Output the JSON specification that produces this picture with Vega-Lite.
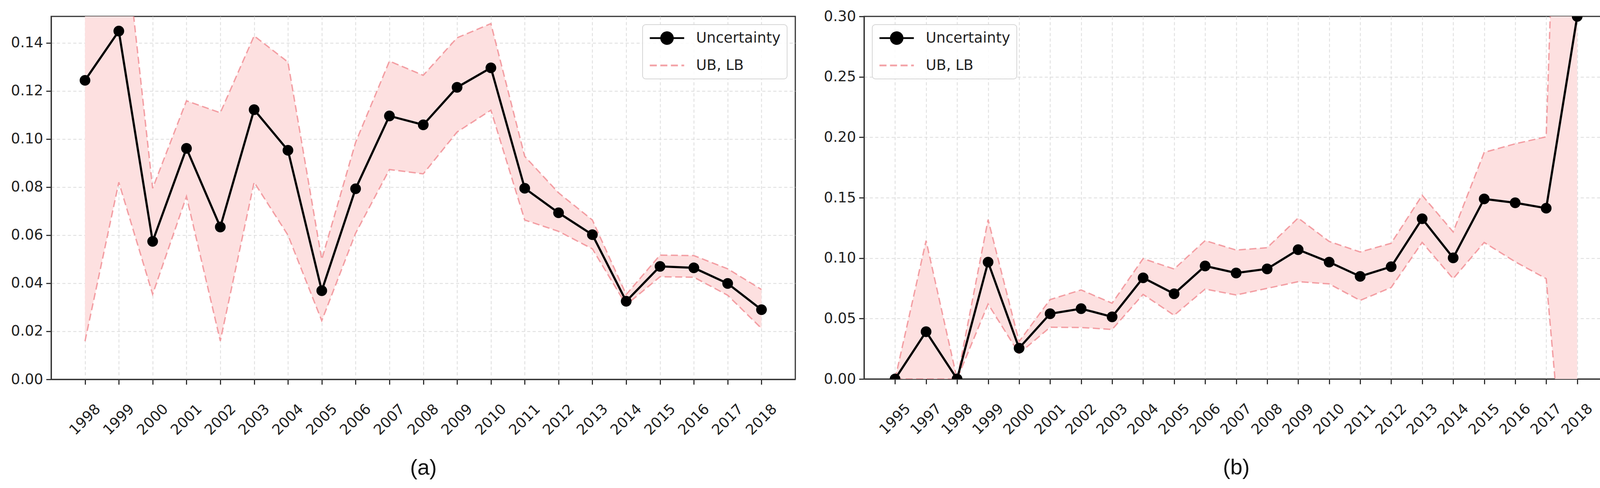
{
  "$schema": "https://vega.github.io/schema/vega-lite/v6.json",
  "padding": {"left": 26, "top": 21, "right": 5, "bottom": 5},
  "background": "white",
  "bounds": "flush",
  "spacing": 176,
  "resolve": {
    "scale": {"x": "independent", "y": "independent", "fill": "independent", "stroke": "independent", "shape": "independent", "strokeDash": "independent"},
    "legend": {"fill": "independent", "stroke": "independent", "shape": "independent", "strokeDash": "independent"}
  },
  "config": {
    "view": {"stroke": "#333", "strokeWidth": 3},
    "axis": {
      "labelFont": "DejaVu Sans", "labelFontSize": 37, "labelColor": "#222",
      "tickSize": 13, "tickWidth": 3, "tickColor": "#333",
      "domainColor": "#333", "domainWidth": 3,
      "grid": true, "gridColor": "#dcdcdc", "gridWidth": 2, "gridDash": [8, 6],
      "labelPadding": 8
    },
    "legend": {
      "title": null, "offset": 21, "padding": 16,
      "fillColor": "rgba(255,255,255,0.85)", "strokeColor": "#d6d6d6", "strokeWidth": 2, "cornerRadius": 8,
      "labelFont": "DejaVu Sans", "labelFontSize": 37, "labelColor": "#222", "labelLimit": 0,
      "symbolSize": 900, "symbolStrokeWidth": 4.5, "symbolOpacity": 1, "labelOffset": 84, "rowPadding": 26
    }
  },
  "datasets": {
    "a": [
      {"year": "1998", "v": 0.1244, "ub": 0.25, "lb": 0.0159},
      {"year": "1999", "v": 0.1449, "ub": 0.207, "lb": 0.082},
      {"year": "2000", "v": 0.0574, "ub": 0.0795, "lb": 0.0354},
      {"year": "2001", "v": 0.0961, "ub": 0.1159, "lb": 0.0761},
      {"year": "2002", "v": 0.0634, "ub": 0.1109, "lb": 0.016},
      {"year": "2003", "v": 0.1122, "ub": 0.1429, "lb": 0.082},
      {"year": "2004", "v": 0.0953, "ub": 0.132, "lb": 0.06},
      {"year": "2005", "v": 0.0369, "ub": 0.0499, "lb": 0.0244},
      {"year": "2006", "v": 0.0793, "ub": 0.0986, "lb": 0.0608},
      {"year": "2007", "v": 0.1096, "ub": 0.1324, "lb": 0.0873},
      {"year": "2008", "v": 0.1059, "ub": 0.1265, "lb": 0.0855},
      {"year": "2009", "v": 0.1215, "ub": 0.1421, "lb": 0.1029},
      {"year": "2010", "v": 0.1296, "ub": 0.148, "lb": 0.112},
      {"year": "2011", "v": 0.0795, "ub": 0.0928, "lb": 0.0663},
      {"year": "2012", "v": 0.0693, "ub": 0.0776, "lb": 0.0616},
      {"year": "2013", "v": 0.0602, "ub": 0.0663, "lb": 0.0543},
      {"year": "2014", "v": 0.0325, "ub": 0.0353, "lb": 0.031},
      {"year": "2015", "v": 0.047, "ub": 0.0517, "lb": 0.0427},
      {"year": "2016", "v": 0.0464, "ub": 0.0515, "lb": 0.0425},
      {"year": "2017", "v": 0.0399, "ub": 0.046, "lb": 0.035},
      {"year": "2018", "v": 0.029, "ub": 0.0374, "lb": 0.0212}
    ],
    "b": [
      {"year": "1995", "v": 0.0, "ub": 0.0, "lb": 0.0},
      {"year": "1997", "v": 0.0391, "ub": 0.1145, "lb": 0.0},
      {"year": "1998", "v": 0.0, "ub": 0.0, "lb": 0.0},
      {"year": "1999", "v": 0.0967, "ub": 0.1319, "lb": 0.062},
      {"year": "2000", "v": 0.0255, "ub": 0.031, "lb": 0.0211},
      {"year": "2001", "v": 0.054, "ub": 0.0657, "lb": 0.0428},
      {"year": "2002", "v": 0.0582, "ub": 0.0737, "lb": 0.0426},
      {"year": "2003", "v": 0.0514, "ub": 0.0627, "lb": 0.041},
      {"year": "2004", "v": 0.0837, "ub": 0.0996, "lb": 0.07},
      {"year": "2005", "v": 0.0705, "ub": 0.091, "lb": 0.0527},
      {"year": "2006", "v": 0.0935, "ub": 0.1145, "lb": 0.0744},
      {"year": "2007", "v": 0.0877, "ub": 0.1067, "lb": 0.0695},
      {"year": "2008", "v": 0.0911, "ub": 0.1086, "lb": 0.075},
      {"year": "2009", "v": 0.107, "ub": 0.1332, "lb": 0.0805},
      {"year": "2010", "v": 0.0967, "ub": 0.1138, "lb": 0.0787},
      {"year": "2011", "v": 0.0849, "ub": 0.1051, "lb": 0.065},
      {"year": "2012", "v": 0.0929, "ub": 0.1123, "lb": 0.0757},
      {"year": "2013", "v": 0.1326, "ub": 0.152, "lb": 0.113},
      {"year": "2014", "v": 0.1002, "ub": 0.1217, "lb": 0.083},
      {"year": "2015", "v": 0.149, "ub": 0.1875, "lb": 0.113},
      {"year": "2016", "v": 0.1458, "ub": 0.1946, "lb": 0.097},
      {"year": "2017", "v": 0.1413, "ub": 0.2004, "lb": 0.083},
      {"year": "2018", "v": 0.3, "ub": 0.97, "lb": -0.21}
    ]
  },
  "hconcat": [
    {
      "width": 1905, "height": 929,
      "data": {"name": "a"},
      "encoding": {
        "x": {"field": "year", "type": "ordinal", "scale": {"type": "point", "padding": 1},
          "axis": {"title": "(a)", "titleFont": "Liberation Sans", "titleFontSize": 56, "titleFontWeight": "normal", "titleColor": "#111", "titlePadding": 50,
            "labelAngle": -45, "labelAlign": "center", "labelBaseline": "middle", "labelPadding": 90, "labelOverlap": false}}
      },
      "layer": [
        {"mark": {"type": "area", "color": "#fde0e0", "opacity": 1, "clip": true},
         "encoding": {"y": {"field": "lb", "type": "quantitative", "scale": {"domain": [0, 0.151], "nice": false, "zero": false},
            "axis": {"title": null, "values": [0, 0.02, 0.04, 0.06, 0.08, 0.1, 0.12, 0.14], "format": ".2f"}},
           "y2": {"field": "ub"}}},
        {"mark": {"type": "line", "strokeWidth": 3.5, "strokeDash": [18, 9], "opacity": 0.8, "clip": true, "color": "#f08a90"},
         "encoding": {"y": {"field": "ub", "type": "quantitative", "scale": {"domain": [0, 0.151], "nice": false, "zero": false}}}},
        {"mark": {"type": "line", "strokeWidth": 3.5, "strokeDash": [18, 9], "opacity": 0.8, "clip": true, "color": "#f08a90"},
         "encoding": {"y": {"field": "lb", "type": "quantitative", "scale": {"domain": [0, 0.151], "nice": false, "zero": false}}}},
        {"mark": {"type": "line", "strokeWidth": 5.5, "clip": true, "color": "#000000"},
         "encoding": {"y": {"field": "v", "type": "quantitative", "scale": {"domain": [0, 0.151], "nice": false, "zero": false}}}},
        {"mark": {"type": "point", "filled": true, "shape": "circle", "size": 750, "color": "#000000", "opacity": 1, "clip": true},
         "encoding": {"y": {"field": "v", "type": "quantitative", "scale": {"domain": [0, 0.151], "nice": false, "zero": false}}}},
        {"transform": [{"filter": "datum.v > 1"}],
         "mark": {"type": "point", "filled": true, "opacity": 1, "clip": true},
         "encoding": {
           "y": {"field": "v", "type": "quantitative", "scale": {"domain": [0, 0.151], "nice": false, "zero": false}},
           "fill": {"datum": "UB, LB", "scale": {"domain": ["Uncertainty", "UB, LB"], "range": ["#000000", "transparent"]}, "legend": {"orient": "top-right"}},
           "stroke": {"datum": "UB, LB", "scale": {"domain": ["Uncertainty", "UB, LB"], "range": ["#000000", "#f3a2a7"]}, "legend": {"orient": "top-right"}},
           "shape": {"datum": "UB, LB", "scale": {"domain": ["Uncertainty", "UB, LB"], "range": ["M-1.07,0L4.8,0M0.87,0A1,1 0 1,1 2.87,0A1,1 0 1,1 0.87,0Z", "M-1.07,0L4.8,0"]}, "legend": {"orient": "top-right"}},
           "strokeDash": {"datum": "UB, LB", "scale": {"domain": ["Uncertainty", "UB, LB"], "range": [[1, 0], [18, 9]]}, "legend": {"orient": "top-right"}}
         }}
      ]
    },
    {
      "width": 1905, "height": 928,
      "data": {"name": "b"},
      "encoding": {
        "x": {"field": "year", "type": "ordinal", "scale": {"type": "point", "padding": 1},
          "axis": {"title": "(b)", "titleFont": "Liberation Sans", "titleFontSize": 56, "titleFontWeight": "normal", "titleColor": "#111", "titlePadding": 50,
            "labelAngle": -45, "labelAlign": "center", "labelBaseline": "middle", "labelPadding": 90, "labelOverlap": false}}
      },
      "layer": [
        {"mark": {"type": "area", "color": "#fde0e0", "opacity": 1, "clip": true},
         "encoding": {"y": {"field": "lb", "type": "quantitative", "scale": {"domain": [0, 0.3], "nice": false, "zero": false},
            "axis": {"title": null, "values": [0, 0.05, 0.1, 0.15, 0.2, 0.25, 0.3], "format": ".2f",
              "gridOpacity": {"condition": {"test": "datum.value >= 0.29", "value": 0}, "value": 1}}},
           "y2": {"field": "ub"}}},
        {"mark": {"type": "line", "strokeWidth": 3.5, "strokeDash": [18, 9], "opacity": 0.8, "clip": true, "color": "#f08a90"},
         "encoding": {"y": {"field": "ub", "type": "quantitative", "scale": {"domain": [0, 0.3], "nice": false, "zero": false}}}},
        {"mark": {"type": "line", "strokeWidth": 3.5, "strokeDash": [18, 9], "opacity": 0.8, "clip": true, "color": "#f08a90"},
         "encoding": {"y": {"field": "lb", "type": "quantitative", "scale": {"domain": [0, 0.3], "nice": false, "zero": false}}}},
        {"mark": {"type": "line", "strokeWidth": 5.5, "clip": true, "color": "#000000"},
         "encoding": {"y": {"field": "v", "type": "quantitative", "scale": {"domain": [0, 0.3], "nice": false, "zero": false}}}},
        {"mark": {"type": "point", "filled": true, "shape": "circle", "size": 750, "color": "#000000", "opacity": 1, "clip": true},
         "encoding": {"y": {"field": "v", "type": "quantitative", "scale": {"domain": [0, 0.3], "nice": false, "zero": false}}}},
        {"transform": [{"filter": "datum.v > 1"}],
         "mark": {"type": "point", "filled": true, "opacity": 1, "clip": true},
         "encoding": {
           "y": {"field": "v", "type": "quantitative", "scale": {"domain": [0, 0.3], "nice": false, "zero": false}},
           "fill": {"datum": "UB, LB", "scale": {"domain": ["Uncertainty", "UB, LB"], "range": ["#000000", "transparent"]}, "legend": {"orient": "top-left"}},
           "stroke": {"datum": "UB, LB", "scale": {"domain": ["Uncertainty", "UB, LB"], "range": ["#000000", "#f3a2a7"]}, "legend": {"orient": "top-left"}},
           "shape": {"datum": "UB, LB", "scale": {"domain": ["Uncertainty", "UB, LB"], "range": ["M-1.07,0L4.8,0M0.87,0A1,1 0 1,1 2.87,0A1,1 0 1,1 0.87,0Z", "M-1.07,0L4.8,0"]}, "legend": {"orient": "top-left"}},
           "strokeDash": {"datum": "UB, LB", "scale": {"domain": ["Uncertainty", "UB, LB"], "range": [[1, 0], [18, 9]]}, "legend": {"orient": "top-left"}}
         }}
      ]
    }
  ]
}
